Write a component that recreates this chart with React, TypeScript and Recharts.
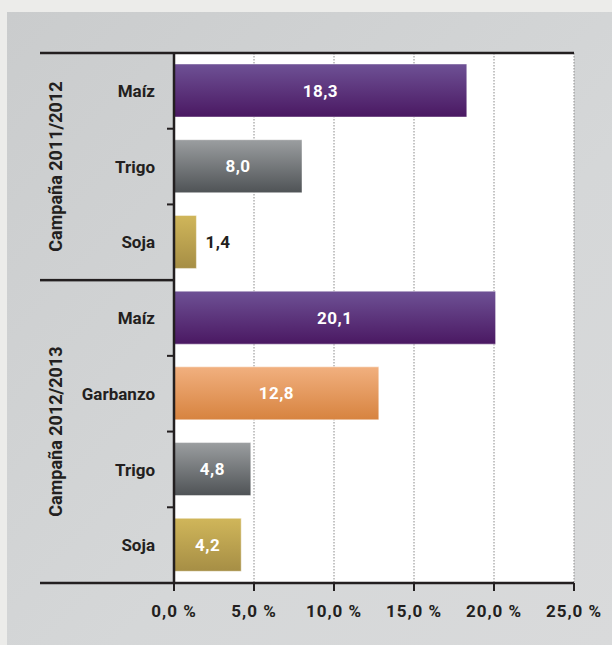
import React from 'react';
import { BarChart, Bar, XAxis, YAxis, CartesianGrid, Cell, LabelList } from 'recharts';

// ---- data ----
const categories = ['Maíz', 'Trigo', 'Soja', 'Maíz', 'Garbanzo', 'Trigo', 'Soja'];
const crops = ['maiz', 'trigo', 'soja', 'maiz', 'garbanzo', 'trigo', 'soja'];
const values = [18.3, 8.0, 1.4, 20.1, 12.8, 4.8, 4.2];
const groupLabels = ['Campaña 2011/2012', 'Campaña 2012/2013'];
const groupStarts = [0, 3];
const groupCounts = [3, 4];
const xTicks = [0, 5, 10, 15, 20, 25];

// ---- styles / layout ----
const W = 612;
const H = 645;
const MARGIN = { top: 53, right: 38, bottom: 22, left: 40 };
const Y_WIDTH = 134;
const X_HEIGHT = 40;
const Y_TICK_MARGIN = 19;
const GROUP_X = 56;
const PLOT_W = W - MARGIN.left - MARGIN.right - Y_WIDTH;
const PLOT_H = H - MARGIN.top - MARGIN.bottom - X_HEIGHT;
const BAR_SIZE = Math.round((PLOT_H / categories.length) * 0.7);
const DARK = '#231f20';
const FONT = 'Roboto, "Open Sans", sans-serif';
const RULE = 2.5;

const gradients: Record<string, [string, string]> = {
  maiz: ['#6e5195', '#4a1862'],
  trigo: ['#9b9ea0', '#4f5356'],
  soja: ['#d0b65a', '#a68e45'],
  garbanzo: ['#f1b07f', '#d7833f'],
};

const data = categories.map((c, i) => ({ key: `${i}-${c}`, name: c, crop: crops[i], value: values[i] }));

const fmtPct = (v: number) => `${v.toFixed(1).replace('.', ',')} %`;
const fmtVal = (v: number) => v.toFixed(1).replace('.', ',');

const HRule = ({ x1, x2, y, h }: { x1: number; x2: number; y: number; h: number }) => (
  <rect x={x1} y={y - h / 2} width={x2 - x1} height={h} fill={DARK} stroke="none" />
);

const YTick = (props: any) => {
  const { x, y, index } = props;
  const count = categories.length;
  const band = PLOT_H / count;
  const plotLeft = x + Y_TICK_MARGIN;
  const left = MARGIN.left;
  const items: React.ReactNode[] = [];
  items.push(
    <text key="t" x={x} y={y} dy="0.36em" textAnchor="end" fill={DARK} stroke="none"
      style={{ fontFamily: FONT, fontWeight: 700, fontSize: 17 }}>
      {categories[index]}
    </text>
  );
  const top = y - band / 2;
  if (index === 0) {
    items.push(<HRule key="top" x1={left} x2={plotLeft + PLOT_W} y={top} h={RULE} />);
  } else if (groupStarts.includes(index)) {
    items.push(<HRule key="sep" x1={left} x2={plotLeft} y={top} h={RULE} />);
  } else {
    items.push(<HRule key="tk" x1={plotLeft - 7} x2={plotLeft} y={top} h={2} />);
  }
  if (index === count - 1) {
    items.push(<HRule key="bot" x1={left} x2={plotLeft} y={y + band / 2} h={RULE} />);
  }
  const g = groupStarts.indexOf(index);
  if (g >= 0) {
    const cy = top + (groupCounts[g] * band) / 2;
    items.push(
      <text key="g" x={GROUP_X} y={cy} textAnchor="middle" dominantBaseline="central" fill={DARK} stroke="none"
        transform={`rotate(-90, ${GROUP_X}, ${cy})`}
        style={{ fontFamily: FONT, fontWeight: 700, fontSize: 18 }}>
        {groupLabels[g]}
      </text>
    );
  }
  return <g>{items}</g>;
};

const BarLabel = (props: any) => {
  const { x, y, width, height, value } = props;
  const inside = width > 40;
  return (
    <text x={inside ? x + width / 2 : x + width + 9} y={y + height / 2} dy="0.36em"
      textAnchor={inside ? 'middle' : 'start'} fill={inside ? '#ffffff' : DARK}
      style={{ fontFamily: FONT, fontWeight: 700, fontSize: 17, letterSpacing: 0.5 }}>
      {fmtVal(value)}
    </text>
  );
};

export default function App() {
  return (
    <div style={{ position: 'absolute', left: 0, top: 0, width: W, height: H, background: '#ececea' }}>
      <div style={{ position: 'absolute', left: 7, top: 12, right: 0, bottom: 0,
        background: 'linear-gradient(135deg, #cacccd 0%, #d5d7d8 60%, #d9dadb 100%)' }} />
      <div style={{ position: 'absolute', left: 0, top: 0 }}>
        <BarChart width={W} height={H} data={data} layout="vertical" margin={MARGIN} barSize={BAR_SIZE}>
          <defs>
            {Object.keys(gradients).map((k) => (
              <linearGradient key={k} id={`grad-${k}`} x1="0" y1="0" x2="0" y2="1">
                <stop offset="0%" stopColor={gradients[k][0]} />
                <stop offset="100%" stopColor={gradients[k][1]} />
              </linearGradient>
            ))}
          </defs>
          <CartesianGrid horizontal={false} vertical={true} fill="#ffffff" stroke="#8a8a8a"
            strokeDasharray="1.5 1.5" strokeWidth={1} />
          <XAxis type="number" dataKey="value" domain={[0, 25]} ticks={xTicks} tickFormatter={fmtPct}
            height={X_HEIGHT} axisLine={{ stroke: DARK, strokeWidth: 2.5 }}
            tickLine={{ stroke: DARK, strokeWidth: 2 }} tickSize={8} tickMargin={14}
            tick={{ fill: DARK, fontFamily: FONT, fontWeight: 700, fontSize: 17, letterSpacing: 1 }}
            interval={0} />
          <YAxis type="category" dataKey="key" width={Y_WIDTH} tickSize={0} tickMargin={Y_TICK_MARGIN}
            axisLine={{ stroke: DARK, strokeWidth: 2.5 }} tickLine={false} tick={<YTick />} interval={0} />
          <Bar dataKey="value" isAnimationActive={false} stroke="rgba(255,255,255,0.45)" strokeWidth={1}>
            {data.map((d) => (
              <Cell key={d.key} fill={`url(#grad-${d.crop})`} />
            ))}
            <LabelList dataKey="value" content={<BarLabel />} />
          </Bar>
        </BarChart>
      </div>
    </div>
  );
}
